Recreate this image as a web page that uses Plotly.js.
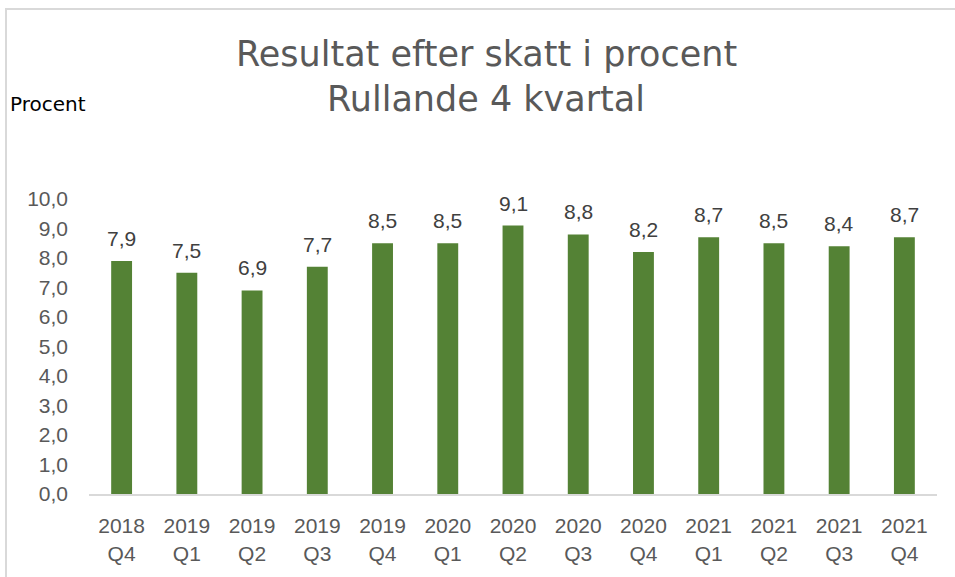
<!DOCTYPE html>
<html><head><meta charset="utf-8">
<script src="https://cdn.plot.ly/plotly-3.0.1.min.js"></script>
<style>
html,body{margin:0;padding:0;background:#fff;}
#wrap{position:absolute;left:0;top:0;width:955px;height:577px;}
#frame{position:absolute;left:5px;top:8px;width:960px;height:600px;border-left:2px solid #d9d9d9;border-top:2px solid #d9d9d9;pointer-events:none;}
#chart{position:absolute;left:0;top:0;width:955px;height:577px;}
</style></head>
<body>
<div id="wrap"><div id="chart"></div><div id="frame"></div></div>
<script>
const categories = ["2018<br>Q4","2019<br>Q1","2019<br>Q2","2019<br>Q3","2019<br>Q4","2020<br>Q1","2020<br>Q2","2020<br>Q3","2020<br>Q4","2021<br>Q1","2021<br>Q2","2021<br>Q3","2021<br>Q4"];
const values = [7.9, 7.5, 6.9, 7.7, 8.5, 8.5, 9.1, 8.8, 8.2, 8.7, 8.5, 8.4, 8.7];
const yTickVals = [0,1,2,3,4,5,6,7,8,9,10];
const yTickText = yTickVals.map(v => v.toFixed(1).replace('.', ','));
const labels = values.map(v => v.toFixed(1).replace('.', ','));
const titleLines = ['Resultat efter skatt i procent', 'Rullande 4 kvartal'];

const trace = {
  type: 'bar',
  x: categories,
  y: values,
  marker: {color: '#548235'},
  hoverinfo: 'x+y'
};

const H = 295, W = 849, L = 88.5, T = 199;

const valueLabels = categories.map((c, i) => ({
  x: c, y: values[i], xref: 'x', yref: 'y',
  text: labels[i], showarrow: false,
  xanchor: 'center', yanchor: 'bottom', yshift: 9,
  font: {family: 'Liberation Sans, Arial, sans-serif', size: 21, color: '#404040'}
}));

const layout = {
  width: 955, height: 577,
  margin: {l: L, r: 17.5, t: T, b: 83, pad: 0},
  paper_bgcolor: 'rgba(0,0,0,0)',
  plot_bgcolor: 'rgba(0,0,0,0)',
  separators: ', ',
  bargap: 0.68,
  showlegend: false,
  xaxis: {
    type: 'category',
    showline: true, linecolor: '#d9d9d9', linewidth: 2,
    showgrid: false, zeroline: false, ticks: '',
    ticklabelstandoff: 12,
    tickfont: {family: 'Liberation Sans, Arial, sans-serif', size: 21, color: '#595959'}
  },
  yaxis: {
    range: [0, 10],
    tickvals: yTickVals, ticktext: yTickText,
    showgrid: false, zeroline: false, showline: false, ticks: '',
    ticklabelstandoff: 20,
    tickfont: {family: 'Liberation Sans, Arial, sans-serif', size: 21, color: '#595959'}
  },
  annotations: [
    {
      text: 'Procent', xref: 'paper', yref: 'paper',
      x: (7 - L) / W, xanchor: 'left',
      y: 1 + (T - 104) / H, yanchor: 'middle',
      showarrow: false,
      font: {family: 'DejaVu Sans, sans-serif', size: 20, color: '#000000'}
    },
    {
      text: titleLines[0], xref: 'paper', yref: 'paper',
      x: (486 - L) / W, xanchor: 'center',
      y: 1 + (T - 54) / H, yanchor: 'middle',
      showarrow: false,
      font: {family: 'DejaVu Sans, sans-serif', size: 35, color: '#595959'}
    },
    {
      text: titleLines[1], xref: 'paper', yref: 'paper',
      x: (486 - L) / W, xanchor: 'center',
      y: 1 + (T - 99) / H, yanchor: 'middle',
      showarrow: false,
      font: {family: 'DejaVu Sans, sans-serif', size: 35, color: '#595959'}
    }
  ].concat(valueLabels)
};

Plotly.newPlot('chart', [trace], layout, {displayModeBar: false, staticPlot: true});
</script>
</body></html>
